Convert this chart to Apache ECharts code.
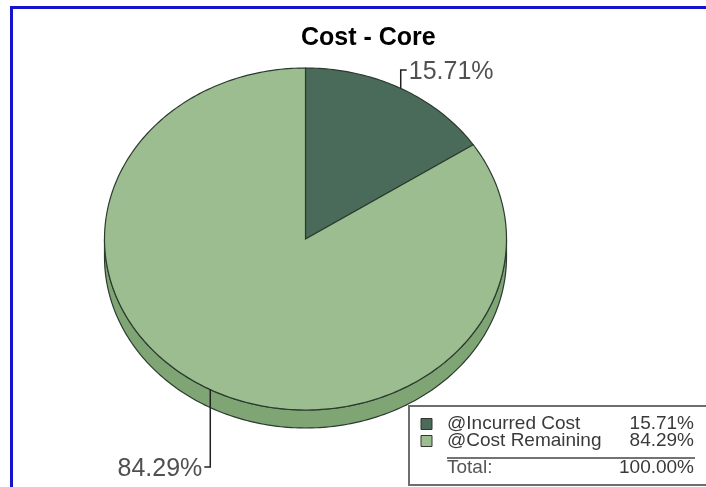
<!DOCTYPE html>
<html>
<head>
<meta charset="utf-8">
<script src="https://cdn.jsdelivr.net/npm/echarts@6/dist/echarts.min.js"></script>
<style>
html,body{margin:0;padding:0;background:#fff;}
#c{width:706px;height:487px;}
</style>
</head>
<body>
<div id="c"></div>
<script>
// ---- data ----
const chartTitle = 'Cost - Core';
const categories = ['@Incurred Cost', '@Cost Remaining'];
const values = [15.71, 84.29];
const totalLabel = 'Total:';

// ---- styles / layout ----
const topColors = ['#4b6b5a', '#9bbd8f'];
const sideColors = ['#3c5749', '#80a575'];
const OUTLINE = '#2c3b30';
const FONT = 'Liberation Sans, Arial, sans-serif';
const CX = 305.5, CY = 239, RX = 201, RY = 171, DEPTH = 18;

const total = values.reduce((a, b) => a + b, 0);
const pct = v => (v / total * 100).toFixed(2) + '%';

function pt(theta, dy) {
  return [CX + RX * Math.sin(theta), CY - RY * Math.cos(theta) + (dy || 0)];
}
function arc(a0, a1, dy) {
  const n = Math.max(2, Math.ceil((a1 - a0) / (Math.PI / 180)));
  const pts = [];
  for (let k = 0; k <= n; k++) pts.push(pt(a0 + (a1 - a0) * k / n, dy));
  return pts;
}

function renderItem(params, api) {
  const i = params.dataIndex;
  const v = api.value(0);
  let before = 0;
  for (let k = 0; k < i; k++) before += values[k];
  const a0 = before / total * 2 * Math.PI;
  const a1 = (before + v) / total * 2 * Math.PI;
  const children = [];
  // visible side wall (front half)
  const s0 = Math.max(a0, Math.PI / 2), s1 = Math.min(a1, 3 * Math.PI / 2);
  if (s1 > s0) {
    const top = arc(s0, s1, 0);
    const bot = arc(s0, s1, DEPTH).reverse();
    children.push({
      type: 'polygon', z2: 1,
      shape: { points: top.concat(bot) },
      style: { fill: sideColors[i], stroke: OUTLINE, lineWidth: 1.2 }
    });
  }
  // top face
  children.push({
    type: 'polygon', z2: 2,
    shape: { points: [[CX, CY]].concat(arc(a0, a1, 0)) },
    style: { fill: topColors[i], stroke: OUTLINE, lineWidth: 1.2 }
  });
  // label with elbow leader
  const am = (a0 + a1) / 2;
  const anchor = pt(am, 0);
  const up = Math.cos(am) > 0;
  const right = Math.sin(am) >= 0;
  const ly = up ? CY - RY + 2 : CY + RY + DEPTH + 39;
  const tx = right ? anchor[0] + 6 : anchor[0] - 6;
  children.push({
    type: 'polyline', z2: 5,
    shape: { points: [anchor, [anchor[0], ly], [tx, ly]] },
    style: { stroke: '#222', lineWidth: 1.5, fill: null }
  });
  children.push({
    type: 'text', z2: 6,
    x: right ? tx + 2 : tx - 2,
    y: ly + 2,
    style: {
      text: pct(v),
      fontFamily: FONT, fontSize: 25,
      fill: '#505050',
      align: right ? 'left' : 'right',
      verticalAlign: 'middle'
    }
  });
  return { type: 'group', children };
}

// legend box as graphics built from the arrays
const LX = 409, LY = 406;
const legendEls = [{
  type: 'rect', z: 10,
  shape: { x: LX, y: LY, width: 320, height: 79 },
  style: { fill: '#fff', stroke: '#6e6e6e', lineWidth: 2 }
}];
categories.forEach((name, i) => {
  const yc = 424 + i * 17;
  legendEls.push({
    type: 'rect', z: 11,
    shape: { x: 421, y: yc - 5.5, width: 11, height: 11 },
    style: { fill: topColors[i], stroke: '#333', lineWidth: 1 }
  });
  legendEls.push({
    type: 'text', z: 11, x: 447, y: yc,
    style: { text: name, fontFamily: FONT, fontSize: 19, fill: '#3a3a3a', align: 'left', verticalAlign: 'middle' }
  });
  legendEls.push({
    type: 'text', z: 11, x: 694, y: yc,
    style: { text: pct(values[i]), fontFamily: FONT, fontSize: 19, fill: '#3a3a3a', align: 'right', verticalAlign: 'middle' }
  });
});
legendEls.push({
  type: 'line', z: 11,
  shape: { x1: 447, y1: 458, x2: 695, y2: 458 },
  style: { stroke: '#444', lineWidth: 1.5 }
});
legendEls.push({
  type: 'text', z: 11, x: 447, y: 468,
  style: { text: totalLabel, fontFamily: FONT, fontSize: 19, fill: '#555', align: 'left', verticalAlign: 'middle' }
});
legendEls.push({
  type: 'text', z: 11, x: 694, y: 468,
  style: { text: pct(total), fontFamily: FONT, fontSize: 19, fill: '#3a3a3a', align: 'right', verticalAlign: 'middle' }
});
// blue frame lines (top and left)
legendEls.push({
  type: 'line', z: 12,
  shape: { x1: 10, y1: 7.5, x2: 706, y2: 7.5 },
  style: { stroke: '#1414cc', lineWidth: 3 }
});
legendEls.push({
  type: 'line', z: 12,
  shape: { x1: 11.5, y1: 6, x2: 11.5, y2: 487 },
  style: { stroke: '#1414cc', lineWidth: 3 }
});

const chart = echarts.init(document.getElementById('c'), null, { renderer: 'canvas' });
chart.setOption({
  animation: false,
  backgroundColor: '#fff',
  title: {
    text: chartTitle,
    left: 296, top: 21,
    textStyle: { fontFamily: FONT, fontWeight: 'bold', fontSize: 25, color: '#000' }
  },
  graphic: legendEls,
  series: [{
    type: 'custom',
    coordinateSystem: 'none',
    renderItem: renderItem,
    data: values.map((v, i) => ({ value: v, name: categories[i] }))
  }]
});
</script>
</body>
</html>
